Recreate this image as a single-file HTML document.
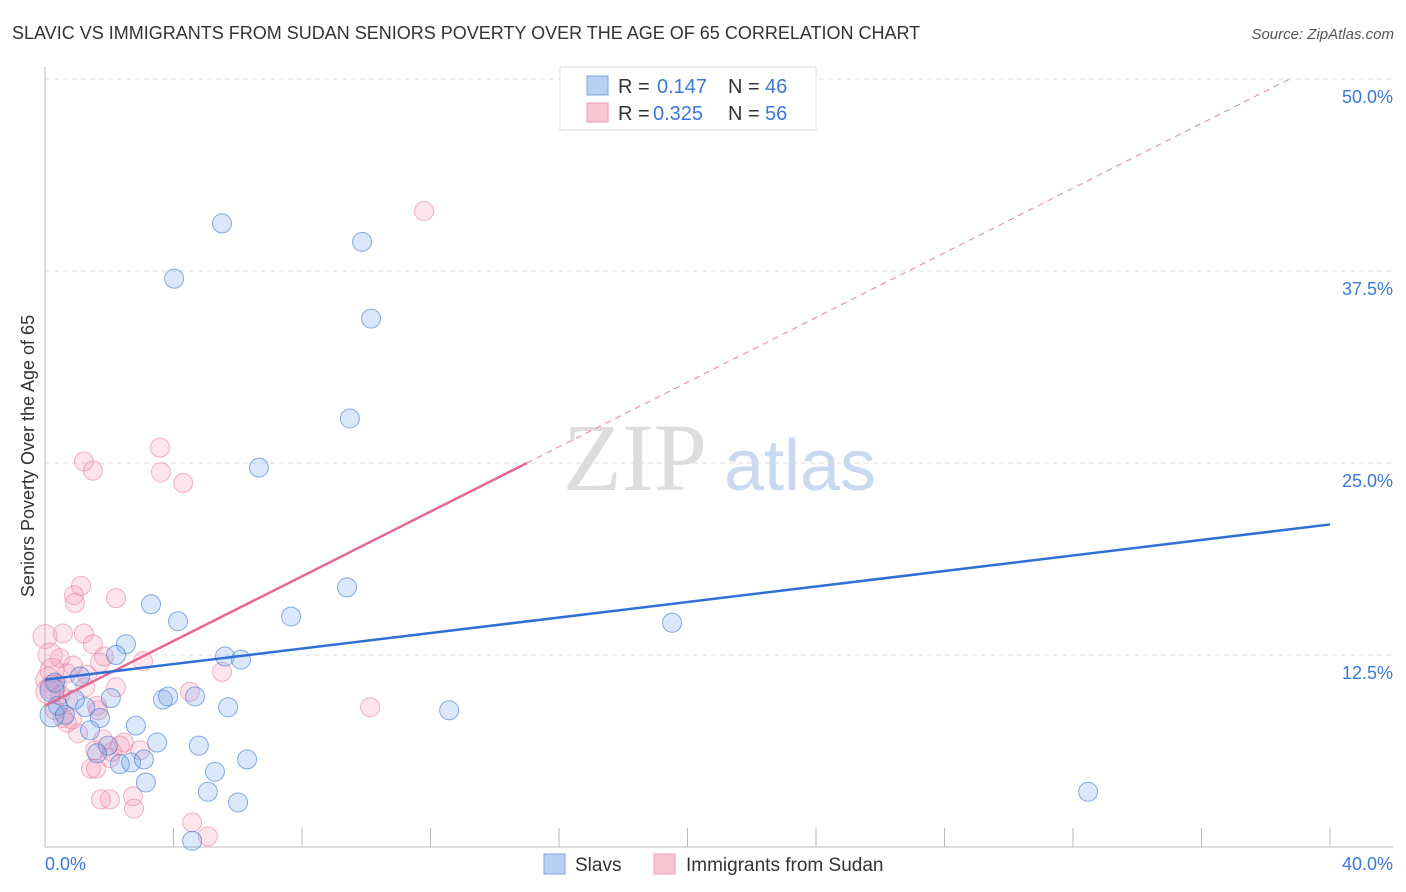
<!DOCTYPE html>
<html><head><meta charset="utf-8"><style>
body{margin:0;background:#fff;font-family:"Liberation Sans",sans-serif;}
svg{display:block}
</style></head><body>
<svg id="chart" width="1406" height="892" viewBox="0 0 1406 892">
<text x="12" y="39" font-size="18" fill="#333">SLAVIC VS IMMIGRANTS FROM SUDAN SENIORS POVERTY OVER THE AGE OF 65 CORRELATION CHART</text>
<text x="1394" y="39" font-size="15" fill="#555" font-style="italic" text-anchor="end">Source: ZipAtlas.com</text>
<text x="635" y="490" font-size="96" fill="#ddd" font-family="Liberation Serif,serif" text-anchor="middle">ZIP</text>
<text x="800" y="490" font-size="72" fill="#c8d9f0" text-anchor="middle">atlas</text>
<g id="grid"></g>
<g id="axes"></g>
<g id="marks"></g>
<text transform="translate(34,456) rotate(-90)" font-size="18" fill="#333" text-anchor="middle">Seniors Poverty Over the Age of 65</text>
<g>
<rect x="560" y="67" width="256" height="63" fill="#fff" stroke="#ddd"/>
<rect x="587" y="76" width="21" height="19" fill="#b8d0f4" stroke="#7aa6e0"/>
<rect x="587" y="103" width="21" height="19" fill="#f9c6d6" stroke="#ee9db6"/>
<text x="618" y="93" font-size="20" fill="#333">R =</text><text x="657" y="93" font-size="20" fill="#3a78d8">0.147</text>
<text x="728" y="93" font-size="20" fill="#333">N =</text><text x="765" y="93" font-size="20" fill="#3a78d8">46</text>
<text x="618" y="120" font-size="20" fill="#333">R =</text><text x="653" y="120" font-size="20" fill="#3a78d8">0.325</text>
<text x="728" y="120" font-size="20" fill="#333">N =</text><text x="765" y="120" font-size="20" fill="#3a78d8">56</text>
</g>
<g>
<rect x="544" y="854" width="21" height="20" fill="#b8d0f4" stroke="#7aa6e0"/>
<text x="575" y="871" font-size="19" fill="#333">Slavs</text>
<rect x="654" y="854" width="21" height="20" fill="#f9c6d6" stroke="#ee9db6"/>
<text x="686" y="871" font-size="19" fill="#333">Immigrants from Sudan</text>
</g>
</svg>
<script>
const yTicks=[12.5,25,37.5,50];
const yTickLabels=["12.5%","25.0%","37.5%","50.0%"];
const xTickLabels=["0.0%","40.0%"];
const slavX=[5.51,9.87,4.02,10.15,9.49,6.66,9.40,3.30,7.66,4.14,19.52,2.52,2.21,5.60,6.10,1.09,0.31,2.05,3.67,3.83,4.67,5.70,12.58,1.25,0.40,1.71,2.83,1.40,3.49,1.96,4.79,1.62,2.33,2.68,3.08,6.29,5.29,3.14,5.07,6.01,32.47,4.58,0.22,0.22,0.62,0.93];
const slavY=[40.6,39.4,37.0,34.4,27.9,24.7,16.9,15.8,15.0,14.7,14.6,13.2,12.5,12.4,12.2,11.1,10.7,9.7,9.6,9.8,9.8,9.1,8.9,9.1,9.2,8.4,7.9,7.6,6.8,6.6,6.6,6.1,5.4,5.5,5.7,5.7,4.9,4.2,3.6,2.9,3.6,0.4,10.2,8.6,8.6,9.6];
const sudanX=[11.80,3.58,1.21,1.49,3.61,4.30,1.12,0.90,0.93,2.21,0,0.56,1.21,1.49,1.84,3.05,0.47,0.87,1.71,0.68,5.51,0.09,0.22,0.37,1.25,2.21,4.51,10.12,0.72,1.62,0.31,0.56,0.68,1.03,1.81,2.46,1.56,2.09,2.96,2.02,1.43,1.59,1.74,2.02,2.74,2.77,4.58,5.07,0.09,0.47,1.31,0.22,0.84,2.33,1.65,0.16];
const sudanY=[41.4,26.0,25.1,24.5,24.4,23.7,17.0,16.4,15.9,16.2,13.7,13.9,13.9,13.2,12.4,12.1,12.3,11.8,12.0,11.3,11.4,10.9,10.4,10.6,10.4,10.4,10.1,9.1,9.6,9.2,8.9,8.4,8.1,7.4,7.0,6.8,6.3,6.2,6.3,5.8,5.1,5.1,3.1,3.1,3.3,2.5,1.6,0.7,10.1,9.9,11.2,11.5,8.3,6.6,8.9,12.5];
const slavTrend=[10.9,0.2525]; // intercept, slope
const sudanTrend=[9.2,1.053];
const sudanSolidEnd=15.0;

const NS="http://www.w3.org/2000/svg";
const X0=45,X1=1330,Y0=847,PPY=15.36;
const sx=v=>X0+v/40*(X1-X0);
const sy=v=>Y0-v*PPY;
function mk(tag,attrs,parent){const e=document.createElementNS(NS,tag);for(const k in attrs)e.setAttribute(k,attrs[k]);parent.appendChild(e);return e;}
const grid=document.getElementById('grid'),axes=document.getElementById('axes'),marks=document.getElementById('marks');
yTicks.forEach((t,i)=>{
 const l=mk('line',{x1:45,x2:1393,y1:sy(t),y2:sy(t),stroke:'#ddd','stroke-dasharray':'5,4'},grid);
 
 
 const tx=mk('text',{x:1393,y:sy(t)+24,'font-size':18,fill:'#3a78d8','text-anchor':'end'},axes);
 tx.textContent=yTickLabels[i];
 
 
});
mk('line',{x1:45,x2:45,y1:67,y2:847,stroke:'#bbb'},axes);
mk('line',{x1:45,x2:1393,y1:847,y2:847,stroke:'#bbb'},axes);
for(let i=0;i<=10;i++){const x=sx(i*4);const t=mk('line',{x1:x,x2:x,y1:828,y2:847,stroke:'#bbb'},axes);}
const xl0=mk('text',{x:45,y:870,'font-size':18,fill:'#3a78d8'},axes);xl0.textContent=xTickLabels[0];


const xl1=mk('text',{x:1393,y:870,'font-size':18,fill:'#3a78d8','text-anchor':'end'},axes);xl1.textContent=xTickLabels[1];



function pts(xs,ys,fill,stroke,name){xs.forEach((x,i)=>{const c=mk('circle',{cx:sx(x),cy:sy(ys[i]),r:(x<0.3?12:9.5),fill:fill,stroke:stroke,'stroke-width':1},marks);
 
 });}
pts(sudanX,sudanY,'rgba(244,150,180,0.25)','rgba(232,120,155,0.55)','sudan-point');
pts(slavX,slavY,'rgba(110,160,235,0.25)','rgba(60,120,210,0.6)','slav-point');
const xEnd=(50-sudanTrend[0])/sudanTrend[1];
const pd=mk('line',{x1:sx(sudanSolidEnd),y1:sy(sudanTrend[0]+sudanTrend[1]*sudanSolidEnd),x2:sx(xEnd),y2:sy(50),stroke:'#e8809f','stroke-width':1,'stroke-dasharray':'6,5'},marks);


const ps=mk('line',{x1:sx(0),y1:sy(sudanTrend[0]),x2:sx(sudanSolidEnd),y2:sy(sudanTrend[0]+sudanTrend[1]*sudanSolidEnd),stroke:'#e86890','stroke-width':2.5},marks);


const bl=mk('line',{x1:sx(0),y1:sy(slavTrend[0]),x2:sx(40),y2:sy(slavTrend[0]+slavTrend[1]*40),stroke:'#2f6fd6','stroke-width':2.5},marks);


</script>
</body></html>
